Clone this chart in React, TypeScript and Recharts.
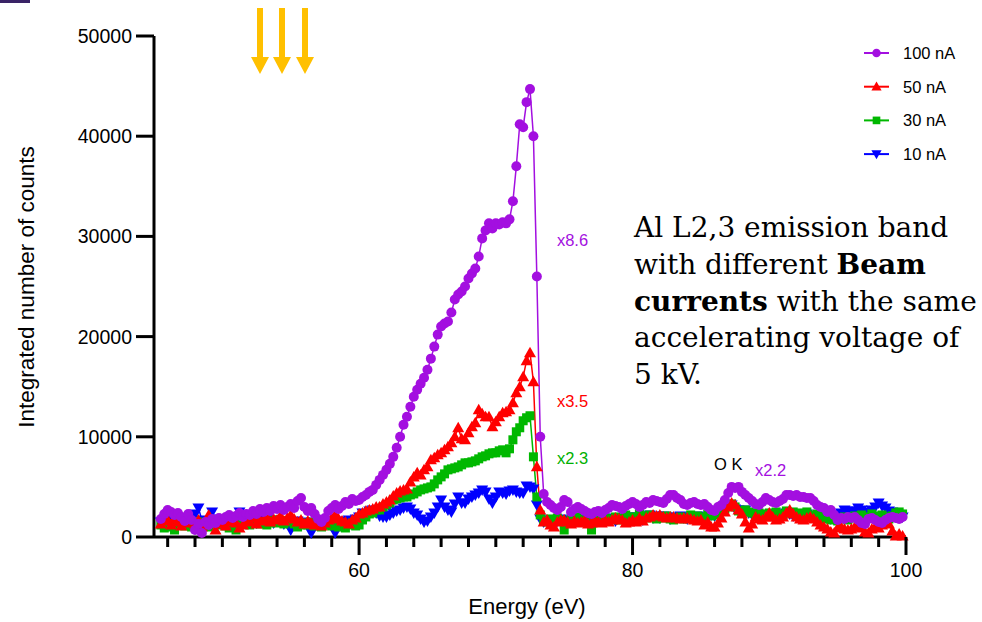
import { LineChart, Line, XAxis, YAxis, Legend, ReferenceDot } from 'recharts';

// energy grid of the spectra (eV)
const ENERGY_EV = [
  45.5, 45.75,
  46, 46.25, 46.5, 46.75, 47, 47.25, 47.5, 47.75, 48, 48.25, 48.5, 48.75, 49, 49.25, 49.5, 49.75,
  50, 50.25, 50.5, 50.75, 51, 51.25, 51.5, 51.75, 52, 52.25, 52.5, 52.75, 53, 53.25, 53.5, 53.75,
  54, 54.25, 54.5, 54.75, 55, 55.25, 55.5, 55.75, 56, 56.25, 56.5, 56.75, 57, 57.25, 57.5, 57.75,
  58, 58.25, 58.5, 58.75, 59, 59.25, 59.5, 59.75, 60, 60.25, 60.5, 60.75, 61, 61.25, 61.5, 61.75,
  62, 62.25, 62.5, 62.75, 63, 63.25, 63.5, 63.75, 64, 64.25, 64.5, 64.75, 65, 65.25, 65.5, 65.75,
  66, 66.25, 66.5, 66.75, 67, 67.25, 67.5, 67.75, 68, 68.25, 68.5, 68.75, 69, 69.25, 69.5, 69.75,
  70, 70.25, 70.5, 70.75, 71, 71.25, 71.5, 71.75, 72, 72.25, 72.5, 72.75, 73, 73.25, 73.5, 73.75,
  74, 74.25, 74.5, 74.75, 75, 75.25, 75.5, 75.75, 76, 76.25, 76.5, 76.75, 77, 77.25, 77.5, 77.75,
  78, 78.25, 78.5, 78.75, 79, 79.25, 79.5, 79.75, 80, 80.25, 80.5, 80.75, 81, 81.25, 81.5, 81.75,
  82, 82.25, 82.5, 82.75, 83, 83.25, 83.5, 83.75, 84, 84.25, 84.5, 84.75, 85, 85.25, 85.5, 85.75,
  86, 86.25, 86.5, 86.75, 87, 87.25, 87.5, 87.75, 88, 88.25, 88.5, 88.75, 89, 89.25, 89.5, 89.75,
  90, 90.25, 90.5, 90.75, 91, 91.25, 91.5, 91.75, 92, 92.25, 92.5, 92.75, 93, 93.25, 93.5, 93.75,
  94, 94.25, 94.5, 94.75, 95, 95.25, 95.5, 95.75, 96, 96.25, 96.5, 96.75, 97, 97.25, 97.5, 97.75,
  98, 98.25, 98.5, 98.75, 99, 99.25, 99.5, 99.75,
];

const COUNTS_100NA = [
  1800, 2300,
  2700, 2500, 2200, 2400, 2000, 1600, 2300, 1700, 700, 1300, 400, 1500, 1200, 1800, 1400, 1900,
  1700, 2000, 2200, 1900, 2100, 2400, 2000, 2300, 2200, 2600, 2300, 2800, 2500, 2900, 2600, 3100,
  2800, 3200, 2700, 3000, 3300, 2900, 3600, 3900, 3000, 2600, 2900, 2300, 1800, 1500, 1900, 2600,
  2900, 3200, 2800, 3100, 3500, 3300, 3800, 3600, 3700, 4000, 4200, 4500, 4700, 5200, 5700, 6200,
  6700, 7300, 8000, 8900, 10000, 11200, 12000, 13000, 14000, 14700, 15300, 15900, 16700, 17800, 19000, 20200,
  21000, 21300, 21500, 22400, 23700, 24200, 24500, 25000, 25800, 26300, 26800, 28000, 29800, 30600, 31300, 30800,
  31300, 31200, 31400, 31300, 31700, 33500, 37000, 41200, 40900, 43400, 44700, 40000, 26000, 10000, 4300, 3500,
  3200, 2900, 2700, 3000, 3700, 3500, 2500, 2800, 3000, 2800, 2600, 2400, 2300, 2500, 2600, 2400,
  2700, 2900, 3200, 3100, 3000, 2800, 3100, 3300, 3500, 3300, 3000, 3200, 3500, 3400, 3700, 3600,
  3500, 3400, 3800, 4200, 4200, 3900, 3700, 3300, 3200, 3400, 3500, 3300, 3200, 3300, 3000, 2700,
  2600, 3000, 3200, 3700, 4400, 5000, 4900, 5000, 4500, 4200, 3900, 3600, 3300, 3200, 3500, 3900,
  3700, 3500, 3400, 3600, 3800, 4200, 4200, 4100, 4200, 4000, 4000, 3900, 3900, 3600, 3200, 3000,
  2900, 2500, 2700, 2200, 1700, 1900, 1800, 2000, 1900, 2000, 1700, 1400, 1300, 1800, 1900, 1700,
  1500, 1400, 1700, 1900, 2000, 1900, 1800, 2000,
];

const COUNTS_50NA = [
  1300, 1600,
  1700, 1200, 1800, 1500, 1100, 1400, 1900, 1600, 1300, 1700, 1000, 1400, 2200, 1600, 700, 1300,
  1600, 1100, 1500, 1800, 1400, 900, 1200, 1600, 1500, 1900, 1300, 1700, 1600, 2000, 1500, 1800,
  1700, 2100, 1600, 1900, 2200, 1800, 1500, 1700, 1300, 1600, 1400, 1200, 1500, 1100, 1400, 1700,
  1900, 2200, 1800, 1600, 1500, 1300, 1700, 1900, 2300, 2400, 2600, 2700, 2800, 3000, 3000, 3300,
  3500, 3700, 4100, 4400, 4600, 4700, 4800, 5500, 6000, 6400, 6200, 6700, 7000, 7700, 7900, 8200,
  8400, 8700, 9000, 9400, 10000, 10900, 9800, 9700, 10400, 11000, 11400, 12700, 12300, 12000, 12000, 11000,
  11500, 12000, 12400, 12500, 12700, 13400, 14400, 15000, 16000, 17600, 18400, 15500, 7000, 2700, 1500, 1700,
  1200, 1000, 1500, 1700, 1700, 1500, 1300, 1600, 1400, 1500, 1700, 1300, 1400, 1600, 1500, 1400,
  1700, 1500, 1700, 1900, 1800, 1700, 1400, 1500, 1700, 1500, 1900, 1600, 1900, 2000, 2200, 2100,
  2200, 2000, 1900, 2000, 2000, 1900, 1800, 1900, 1900, 1800, 1700, 1600, 1700, 1200, 1500, 1000,
  1000, 1400, 1900, 2500, 3000, 3400, 3200, 2700, 2300, 1500, 900, 1300, 2000, 1800, 1700, 2000,
  2400, 2000, 1700, 1800, 2000, 2400, 2700, 2300, 2000, 1800, 1700, 1900, 2000, 1800, 1500, 1200,
  1000, 800, 500, 400, 900, 1000, 800, 700, 800, 1000, 1100, 900, 500, 400, 800, 1000,
  900, 1200, 1500, 1300, 600, 100, 300, 100,
];

const COUNTS_30NA = [
  1200, 900,
  1300, 1000, 700, 1200, 1400, 1100, 1300, 1000, 1200, 1500, 1100, 1300, 1000, 1400, 1600, 1200,
  1300, 1100, 900, 1400, 700, 1200, 1300, 1500, 1200, 1400, 1600, 1300, 1500, 1200, 1400, 1700,
  1400, 1600, 1300, 1500, 1700, 1300, 1000, 1200, 1400, 1200, 1500, 1100, 1300, 1000, 1200, 1400,
  1100, 1300, 1000, 1200, 900, 1200, 1400, 1100, 1200, 1700, 2000, 2300, 2400, 2700, 2700, 3000,
  3200, 3400, 3700, 3800, 3900, 4000, 4000, 4200, 4300, 4500, 4700, 4800, 4900, 5000, 5300, 5700,
  6000, 6300, 6700, 6800, 6900, 7000, 7200, 7400, 7400, 7500, 7600, 7800, 8000, 8100, 8300, 8400,
  8400, 8600, 8700, 8400, 8800, 9700, 10500, 10900, 11600, 11900, 12100, 8000, 4000, 2200, 1700, 1500,
  1800, 1600, 1900, 1700, 700, 1400, 1800, 1600, 2000, 1700, 1500, 1400, 700, 1500, 1800, 1700,
  1900, 1600, 1800, 2000, 1700, 1900, 2200, 2000, 1800, 2000, 2300, 2100, 1900, 2200, 2000, 1800,
  2000, 1900, 2100, 1800, 1700, 1900, 2000, 1800, 1900, 2200, 2000, 2100, 1800, 2000, 2300, 2100,
  2200, 2400, 2600, 2800, 3200, 3300, 3000, 2600, 2400, 2700, 2500, 2400, 2200, 2400, 2300, 2100,
  2400, 2200, 2500, 2300, 2200, 2600, 2400, 2500, 2300, 2400, 2200, 2500, 2200, 2000, 2300, 2100,
  1800, 2000, 1700, 1900, 1600, 1800, 2000, 1700, 1900, 2100, 2000, 2200, 1800, 2000, 2300, 2100,
  1900, 2200, 2000, 1800, 2100, 2400, 2500, 2300,
];

const COUNTS_10NA = [
  1500, 1200,
  1400, 1700, 1300, 1600, 1800, 1500, 1700, 2000, 2300, 2900, 1700, 1500, 1600, 2500, 1800, 1400,
  1700, 1500, 1900, 1600, 1800, 2500, 1700, 1500, 1600, 1800, 1400, 1700, 1500, 1800, 1600, 1400,
  1700, 1500, 1300, 1600, 700, 1400, 1600, 1300, 1500, 1200, 400, 1100, 1400, 1600, 1300, 1500,
  1200, 400, 1300, 1600, 1500, 1700, 1400, 1800, 2000, 2400, 2200, 2600, 2700, 2400, 2100, 2000,
  2000, 2200, 2400, 2600, 2700, 2900, 3000, 2800, 2400, 2200, 1800, 1500, 1600, 2000, 2400, 3000,
  3700, 3000, 2700, 2500, 3300, 4000, 3400, 3400, 3800, 4000, 4200, 4400, 4700, 4500, 3800, 3400,
  4000, 4500, 4400, 4300, 4600, 4700, 4500, 4400, 4400, 5100, 5000, 4800, 3200, 1800, 1500, 1600,
  1500, 1700, 1600, 1800, 1700, 1500, 1600, 1900, 1600, 1800, 1700, 1500, 1700, 1900, 1600, 1800,
  1800, 1700, 1900, 1600, 1900, 1800, 1700, 2000, 1800, 2000, 1900, 1700, 2000, 2200, 1900, 2100,
  1900, 2100, 2000, 1800, 2000, 1900, 2100, 1900, 1800, 2000, 1900, 2100, 1900, 1800, 2000, 2200,
  2100, 2400, 2600, 2800, 3000, 3200, 2800, 2700, 2600, 2700, 2400, 2200, 2100, 2000, 2200, 2100,
  2200, 2000, 2100, 2300, 2200, 2400, 2300, 2100, 2000, 2200, 2100, 2300, 2000, 1900, 2100, 2000,
  1900, 2000, 1800, 2100, 2200, 2400, 2700, 2600, 2400, 2600, 2900, 2700, 2500, 2300, 2700, 3000,
  3400, 3100, 2900, 2600, 2500, 2300, 2100, 2000,
];

const Y_TICKS = [0, 10000, 20000, 30000, 40000, 50000];
const X_TICKS = [
  46, 48, 50, 52, 54, 56, 58, 60, 62, 64, 66, 68, 70, 72, 74, 76, 78, 80, 82, 84, 86, 88, 90, 92, 94, 96, 98, 100,
];

const PURPLE = '#A30FE0';
const SANS = "'Liberation Sans', Arial, sans-serif";

// drawn bottom to top; legend lists them in reverse
const SERIES = [
  { key: 'na10', name: '10 nA', color: '#0000FF', shape: 'down' },
  { key: 'na30', name: '30 nA', color: '#00B800', shape: 'square' },
  { key: 'na50', name: '50 nA', color: '#FF0000', shape: 'up' },
  { key: 'na100', name: '100 nA', color: PURPLE, shape: 'circle' },
];

const data = ENERGY_EV.map((e, i) => ({
  e,
  na100: COUNTS_100NA[i],
  na50: COUNTS_50NA[i],
  na30: COUNTS_30NA[i],
  na10: COUNTS_10NA[i],
}));

function Marker({ cx, cy, shape, color, size = 1 }: any) {
  if (cx == null || cy == null) return null;
  const h = 6 * size;
  if (shape === 'circle') return <circle cx={cx} cy={cy} r={5 * size} fill={color} />;
  if (shape === 'square') return <rect x={cx - 4.5 * size} y={cy - 4.5 * size} width={9 * size} height={9 * size} fill={color} />;
  if (shape === 'up')
    return <polygon points={`${cx},${cy - h} ${cx + h},${cy + 4.5 * size} ${cx - h},${cy + 4.5 * size}`} fill={color} />;
  return <polygon points={`${cx - h},${cy - 4.5 * size} ${cx + h},${cy - 4.5 * size} ${cx},${cy + h}`} fill={color} />;
}

function EnergyTick({ x, y, payload }: any) {
  const major = payload.value % 20 === 0;
  return (
    <g>
      <line x1={x} x2={x} y1={y} y2={y + (major ? 18 : 10)} stroke="#000" strokeWidth={3} />
      {major && (
        <text x={x} y={y + 40} textAnchor="middle" fontSize={19.5} fontFamily={SANS} fill="#000">
          {payload.value}
        </text>
      )}
    </g>
  );
}

function LegendBox() {
  const items = [...SERIES].reverse();
  return (
    <svg width={120} height={140}>
      {items.map((s, i) => {
        const cy = 17 + i * 33.7;
        return (
          <g key={s.key}>
            <line x1={9} x2={34} y1={cy} y2={cy} stroke={s.color} strokeWidth={2} />
            <Marker cx={21.5} cy={cy} shape={s.shape} color={s.color} size={0.85} />
            <text x={48} y={cy} dominantBaseline="central" fontSize={16.5} fontFamily={SANS} fill="#000">
              {s.name}
            </text>
          </g>
        );
      })}
    </svg>
  );
}

function Note({ cx, cy, text, color }: any) {
  return (
    <text x={cx} y={cy} dominantBaseline="central" fontSize={16.5} fontFamily={SANS} fill={color}>
      {text}
    </text>
  );
}

const ARROWS_X = [260, 282, 305];

export default function App() {
  return (
    <div style={{ position: 'absolute', left: 0, top: 0, width: 982, height: 622, background: '#fff' }}>
      <LineChart width={982} height={622} data={data} margin={{ top: 36, right: 76, bottom: 0, left: 0 }}>
        <XAxis
          dataKey="e"
          type="number"
          domain={[45, 100]}
          ticks={X_TICKS}
          interval={0}
          tickSize={0}
          tickMargin={0}
          tickLine={false}
          tick={<EnergyTick />}
          height={85}
          axisLine={{ stroke: '#000', strokeWidth: 3 }}
        />
        <YAxis
          type="number"
          domain={[0, 50000]}
          ticks={Y_TICKS}
          interval={0}
          width={154}
          tickSize={18}
          tickMargin={4}
          tickLine={{ stroke: '#000', strokeWidth: 3 }}
          axisLine={{ stroke: '#000', strokeWidth: 3 }}
          tick={{ fill: '#000', fontSize: 19.5, fontFamily: SANS }}
        />
        <Legend
          layout="vertical"
          align="center"
          verticalAlign="middle"
          content={<LegendBox />}
          wrapperStyle={{ left: 855, top: 36, width: 120, height: 140 }}
        />
        {SERIES.map((s) => (
          <Line
            key={s.key}
            dataKey={s.key}
            name={s.name}
            type="linear"
            stroke={s.color}
            strokeWidth={1.5}
            isAnimationActive={false}
            dot={(p: any) => <Marker key={`${s.key}-${p.index}`} cx={p.cx} cy={p.cy} shape={s.shape} color={s.color} />}
            activeDot={false}
          />
        ))}
        <ReferenceDot x={74.47} y={29640} r={0} shape={(p: any) => <Note {...p} text="x8.6" color={PURPLE} />} />
        <ReferenceDot x={74.47} y={13570} r={0} shape={(p: any) => <Note {...p} text="x3.5" color="#FF0000" />} />
        <ReferenceDot x={74.47} y={7880} r={0} shape={(p: any) => <Note {...p} text="x2.3" color="#00B000" />} />
        <ReferenceDot x={85.96} y={7290} r={0} shape={(p: any) => <Note {...p} text="O K" color="#000" />} />
        <ReferenceDot x={88.96} y={6690} r={0} shape={(p: any) => <Note {...p} text="x2.2" color={PURPLE} />} />
      </LineChart>
      <svg
        width={982}
        height={622}
        style={{ position: 'absolute', left: 0, top: 0, pointerEvents: 'none' }}
      >
        <rect x={0} y={0} width={30} height={3} fill="#3a2366" />
        {ARROWS_X.map((cx) => (
          <polygon
            key={cx}
            points={`${cx - 3},8 ${cx + 3},8 ${cx + 3},57 ${cx + 9},57 ${cx},74 ${cx - 9},57 ${cx - 3},57`}
            fill="#FFC000"
          />
        ))}
        <text x={527} y={614} textAnchor="middle" fontSize={22} fontFamily={SANS} fill="#000">
          Energy (eV)
        </text>
        <text
          transform="translate(34,287) rotate(-90)"
          textAnchor="middle"
          fontSize={22.5}
          fontFamily={SANS}
          fill="#000"
        >
          Integrated number of counts
        </text>
        <g fontFamily="'DejaVu Serif', serif" fontSize={28} fill="#000">
          <text x={634} y={237}>Al L2,3 emission band</text>
          <text x={634} y={274}>
            with different <tspan fontWeight="bold">Beam</tspan>
          </text>
          <text x={634} y={311}>
            <tspan fontWeight="bold">currents</tspan> with the same
          </text>
          <text x={634} y={347}>accelerating voltage of</text>
          <text x={634} y={384}>5 kV.</text>
        </g>
      </svg>
    </div>
  );
}
